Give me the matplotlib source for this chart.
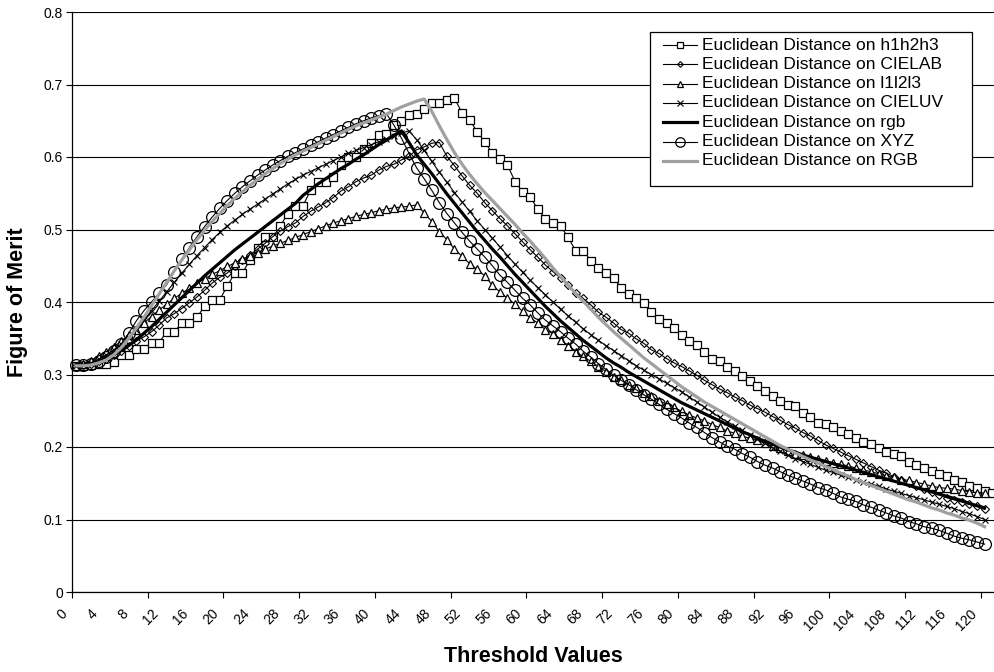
import matplotlib
matplotlib.use("Agg")
import matplotlib.pyplot as plt
import matplotlib.transforms as mtransforms
from matplotlib.lines import Line2D
from matplotlib.patches import Rectangle
import numpy as np

plt.rcParams['font.family'] = ['Liberation Sans', 'DejaVu Sans']

# ---------------- data ----------------
thresholds = list(range(0, 121))
thresholds_h = list(range(0, 122))

h1h2h3 = [0.312, 0.312, 0.313, 0.314, 0.315, 0.317, 0.327, 0.327, 0.335, 0.335,
          0.344, 0.344, 0.359, 0.359, 0.371, 0.371, 0.379, 0.394, 0.403, 0.403,
          0.422, 0.440, 0.440, 0.458, 0.474, 0.489, 0.489, 0.505, 0.522, 0.533,
          0.533, 0.554, 0.565, 0.565, 0.573, 0.589, 0.600, 0.600, 0.611, 0.620,
          0.630, 0.632, 0.644, 0.650, 0.658, 0.660, 0.666, 0.674, 0.675, 0.679,
          0.681, 0.661, 0.651, 0.635, 0.621, 0.605, 0.597, 0.589, 0.566, 0.552,
          0.545, 0.528, 0.515, 0.509, 0.505, 0.489, 0.471, 0.471, 0.457, 0.447,
          0.440, 0.433, 0.420, 0.411, 0.405, 0.398, 0.386, 0.376, 0.371, 0.364,
          0.354, 0.346, 0.341, 0.331, 0.322, 0.318, 0.311, 0.305, 0.298, 0.291,
          0.284, 0.277, 0.270, 0.264, 0.258, 0.256, 0.247, 0.242, 0.233, 0.232,
          0.228, 0.222, 0.218, 0.212, 0.207, 0.204, 0.198, 0.193, 0.191, 0.187,
          0.180, 0.175, 0.171, 0.167, 0.163, 0.160, 0.154, 0.152, 0.146, 0.144,
          0.140, 0.136]

cielab = [0.312, 0.313, 0.315, 0.318, 0.322, 0.327, 0.333, 0.340, 0.346, 0.352,
          0.359, 0.368, 0.378, 0.384, 0.391, 0.399, 0.407, 0.416, 0.426, 0.434,
          0.440, 0.449, 0.458, 0.465, 0.473, 0.481, 0.490, 0.498, 0.504, 0.509,
          0.518, 0.525, 0.531, 0.537, 0.544, 0.553, 0.559, 0.566, 0.571, 0.575,
          0.582, 0.587, 0.590, 0.596, 0.601, 0.610, 0.614, 0.619, 0.620, 0.601,
          0.588, 0.574, 0.561, 0.550, 0.537, 0.526, 0.515, 0.505, 0.494, 0.483,
          0.472, 0.462, 0.451, 0.442, 0.433, 0.423, 0.413, 0.405, 0.396, 0.386,
          0.379, 0.371, 0.362, 0.357, 0.349, 0.343, 0.334, 0.329, 0.322, 0.316,
          0.311, 0.305, 0.299, 0.292, 0.286, 0.280, 0.275, 0.269, 0.264, 0.258,
          0.253, 0.248, 0.242, 0.237, 0.231, 0.226, 0.220, 0.215, 0.209, 0.203,
          0.198, 0.193, 0.188, 0.183, 0.178, 0.173, 0.168, 0.164, 0.159, 0.155,
          0.151, 0.146, 0.142, 0.138, 0.134, 0.130, 0.127, 0.124, 0.121, 0.118,
          0.114]

l1l2l3 = [0.312, 0.315, 0.319, 0.325, 0.331, 0.338, 0.346, 0.354, 0.362, 0.371,
          0.380, 0.389, 0.397, 0.405, 0.412, 0.419, 0.426, 0.432, 0.438, 0.443,
          0.449, 0.454, 0.459, 0.464, 0.468, 0.473, 0.477, 0.481, 0.485, 0.489,
          0.493, 0.497, 0.501, 0.505, 0.509, 0.512, 0.515, 0.518, 0.521, 0.523,
          0.526, 0.528, 0.530, 0.531, 0.532, 0.534, 0.523, 0.511, 0.497, 0.486,
          0.473, 0.463, 0.453, 0.445, 0.436, 0.423, 0.414, 0.405, 0.397, 0.387,
          0.378, 0.371, 0.362, 0.356, 0.348, 0.339, 0.331, 0.325, 0.318, 0.311,
          0.304, 0.297, 0.292, 0.286, 0.281, 0.275, 0.270, 0.264, 0.259, 0.255,
          0.249, 0.244, 0.240, 0.236, 0.231, 0.227, 0.222, 0.219, 0.215, 0.212,
          0.209, 0.205, 0.201, 0.198, 0.195, 0.191, 0.189, 0.186, 0.183, 0.181,
          0.178, 0.176, 0.174, 0.171, 0.168, 0.166, 0.163, 0.160, 0.158, 0.155,
          0.154, 0.151, 0.149, 0.146, 0.144, 0.143, 0.142, 0.140, 0.138, 0.137,
          0.136]

cieluv = [0.312, 0.313, 0.316, 0.321, 0.327, 0.334, 0.342, 0.351, 0.362, 0.375,
          0.388, 0.401, 0.414, 0.427, 0.440, 0.452, 0.464, 0.475, 0.486, 0.496,
          0.505, 0.513, 0.521, 0.528, 0.535, 0.542, 0.549, 0.556, 0.563, 0.569,
          0.575, 0.580, 0.585, 0.590, 0.595, 0.600, 0.605, 0.609, 0.613, 0.617,
          0.621, 0.625, 0.629, 0.633, 0.636, 0.624, 0.609, 0.594, 0.579, 0.565,
          0.551, 0.538, 0.525, 0.512, 0.500, 0.488, 0.476, 0.464, 0.452, 0.441,
          0.430, 0.420, 0.410, 0.400, 0.390, 0.381, 0.372, 0.363, 0.355, 0.347,
          0.340, 0.333, 0.326, 0.319, 0.312, 0.306, 0.300, 0.294, 0.288, 0.282,
          0.276, 0.269, 0.262, 0.255, 0.248, 0.241, 0.235, 0.229, 0.223, 0.217,
          0.211, 0.205, 0.199, 0.194, 0.189, 0.184, 0.180, 0.176, 0.172, 0.168,
          0.165, 0.161, 0.158, 0.155, 0.152, 0.149, 0.146, 0.142, 0.139, 0.136,
          0.133, 0.130, 0.127, 0.124, 0.121, 0.118, 0.115, 0.111, 0.108, 0.104,
          0.100]

rgb_norm = [0.312, 0.313, 0.315, 0.318, 0.322, 0.327, 0.333, 0.340, 0.348, 0.357,
            0.366, 0.376, 0.386, 0.396, 0.406, 0.416, 0.426, 0.436, 0.445, 0.454,
            0.463, 0.472, 0.480, 0.488, 0.496, 0.504, 0.512, 0.520, 0.528, 0.536,
            0.547, 0.555, 0.563, 0.570, 0.577, 0.584, 0.590, 0.597, 0.603, 0.610,
            0.617, 0.623, 0.630, 0.636, 0.620, 0.603, 0.590, 0.577, 0.563, 0.549,
            0.536, 0.523, 0.510, 0.497, 0.485, 0.473, 0.462, 0.450, 0.438, 0.427,
            0.416, 0.405, 0.394, 0.384, 0.374, 0.365, 0.356, 0.347, 0.339, 0.331,
            0.323, 0.316, 0.310, 0.303, 0.297, 0.291, 0.285, 0.279, 0.273, 0.267,
            0.261, 0.256, 0.251, 0.246, 0.241, 0.236, 0.231, 0.226, 0.221, 0.217,
            0.212, 0.208, 0.204, 0.200, 0.196, 0.193, 0.189, 0.186, 0.183, 0.180,
            0.177, 0.174, 0.171, 0.168, 0.165, 0.162, 0.159, 0.156, 0.153, 0.150,
            0.147, 0.144, 0.141, 0.138, 0.135, 0.132, 0.129, 0.126, 0.122, 0.119,
            0.116]

xyz = [0.313, 0.313, 0.314, 0.318, 0.324, 0.332, 0.342, 0.357, 0.374, 0.388,
       0.400, 0.412, 0.424, 0.442, 0.459, 0.475, 0.490, 0.504, 0.517, 0.529,
       0.540, 0.550, 0.559, 0.567, 0.575, 0.582, 0.589, 0.595, 0.601, 0.606,
       0.611, 0.616, 0.621, 0.626, 0.631, 0.636, 0.641, 0.646, 0.650, 0.654,
       0.657, 0.660, 0.644, 0.626, 0.605, 0.585, 0.570, 0.554, 0.537, 0.522,
       0.509, 0.496, 0.484, 0.473, 0.462, 0.450, 0.437, 0.427, 0.416, 0.405,
       0.396, 0.385, 0.375, 0.367, 0.359, 0.350, 0.342, 0.332, 0.324, 0.315,
       0.307, 0.299, 0.292, 0.286, 0.279, 0.272, 0.266, 0.259, 0.252, 0.246,
       0.240, 0.233, 0.227, 0.220, 0.213, 0.207, 0.201, 0.197, 0.191, 0.186,
       0.180, 0.175, 0.171, 0.166, 0.161, 0.157, 0.153, 0.149, 0.144, 0.141,
       0.136, 0.131, 0.128, 0.125, 0.120, 0.117, 0.113, 0.109, 0.105, 0.102,
       0.097, 0.094, 0.090, 0.088, 0.085, 0.081, 0.077, 0.074, 0.072, 0.069,
       0.066]

rgb_raw = [0.312, 0.312, 0.313, 0.316, 0.320, 0.327, 0.337, 0.350, 0.364, 0.379,
           0.395, 0.411, 0.427, 0.443, 0.458, 0.472, 0.486, 0.499, 0.511, 0.522,
           0.533, 0.543, 0.552, 0.561, 0.569, 0.577, 0.584, 0.591, 0.597, 0.603,
           0.608, 0.613, 0.618, 0.623, 0.628, 0.633, 0.638, 0.643, 0.647, 0.651,
           0.655, 0.659, 0.664, 0.669, 0.673, 0.677, 0.680, 0.663, 0.643, 0.624,
           0.606, 0.590, 0.576, 0.563, 0.551, 0.540, 0.529, 0.518, 0.507, 0.495,
           0.484, 0.472, 0.460, 0.447, 0.435, 0.423, 0.412, 0.401, 0.390, 0.379,
           0.369, 0.359, 0.350, 0.341, 0.332, 0.323, 0.315, 0.307, 0.299, 0.291,
           0.283, 0.276, 0.269, 0.262, 0.256, 0.250, 0.244, 0.238, 0.232, 0.226,
           0.220, 0.214, 0.208, 0.202, 0.197, 0.192, 0.187, 0.182, 0.178, 0.173,
           0.169, 0.164, 0.160, 0.155, 0.151, 0.147, 0.143, 0.139, 0.135, 0.131,
           0.127, 0.124, 0.120, 0.116, 0.113, 0.109, 0.106, 0.102, 0.099, 0.095,
           0.090]

labels = ["Euclidean Distance on h1h2h3",
          "Euclidean Distance on CIELAB",
          "Euclidean Distance on l1l2l3",
          "Euclidean Distance on CIELUV",
          "Euclidean Distance on rgb",
          "Euclidean Distance on XYZ",
          "Euclidean Distance on RGB"]

x_tick_values = list(range(0, 121, 4))
y_tick_values = [0, 0.1, 0.2, 0.3, 0.4, 0.5, 0.6, 0.7, 0.8]
y_tick_labels = ["0", "0.1", "0.2", "0.3", "0.4", "0.5", "0.6", "0.7", "0.8"]

# ---------------- styles ----------------
styles = [
    dict(color="black", lw=0.8, marker="s", ms=5.5, mfc="white", mec="black", mew=0.9),
    dict(color="black", lw=0.8, marker="D", ms=3.6, mfc="none", mec="black", mew=0.8),
    dict(color="black", lw=0.8, marker="^", ms=5.2, mfc="white", mec="black", mew=0.9),
    dict(color="black", lw=0.8, marker="x", ms=5.0, mec="black", mew=0.8),
    dict(color="black", lw=2.3, marker=None),
    dict(color="black", lw=0.8, marker="o", ms=8.5, mfc="none", mec="black", mew=0.9),
    dict(color="#a0a0a0", lw=2.3, marker=None),
]

W, H = 995, 672
fig = plt.figure(figsize=(W / 100, H / 100), dpi=100)
fig.patch.set_facecolor("white")
L, R, T, B = 72, 996, 12, 592
ax = fig.add_axes([L / W, 1 - B / H, (R - L) / W, (B - T) / H])
ax.set_xlim(-0.5, 121.5)
ax.set_ylim(0, 0.8)

series = [(thresholds_h, h1h2h3), (thresholds, cielab), (thresholds, l1l2l3),
          (thresholds, cieluv), (thresholds, rgb_norm), (thresholds, xyz),
          (thresholds, rgb_raw)]
for i, ((xs, ys), st) in enumerate(zip(series, styles)):
    ax.plot(xs, ys, label=labels[i], zorder=3 + i, clip_on=False, **st)

# grid / axes
ax.set_yticks(y_tick_values)
ax.set_yticklabels(y_tick_labels, fontsize=10)
ax.yaxis.grid(True, color="black", lw=0.8)
ax.set_axisbelow(True)
for s in ["top", "right"]:
    ax.spines[s].set_visible(False)
for s in ["left", "bottom"]:
    ax.spines[s].set_linewidth(0.9)
    ax.spines[s].set_color("black")
ax.tick_params(axis="y", direction="out", length=4, width=0.8, pad=2.5)

ax.set_xticks(x_tick_values)
ax.set_xticklabels([str(v) for v in x_tick_values], fontsize=10)
ax.set_xticks(np.arange(-0.5, 120, 10), minor=True)
ax.tick_params(axis="x", which="major", length=0, pad=14)
ax.tick_params(axis="x", which="minor", direction="out", length=4, width=0.8)
offset = mtransforms.ScaledTranslation(-10.5 / 100, 0, fig.dpi_scale_trans)
for lab in ax.get_xticklabels():
    lab.set_rotation(45)
    lab.set_ha("right")
    lab.set_va("center")
    lab.set_rotation_mode("anchor")
    lab.set_transform(lab.get_transform() + offset)

fig.text(533 / W, 1 - 656 / H, "Threshold Values", fontsize=15.5,
         fontweight="bold", ha="center", va="center")
fig.text(18 / W, 1 - 302 / H, "Figure of Merit", fontsize=15.5,
         fontweight="bold", ha="center", va="center", rotation=90)

# legend (drawn in figure pixel space)
def fx(px):
    return px / W

def fy(py):
    return 1 - py / H

box_l, box_r, box_t, box_b = 650, 972, 32, 186
fig.patches.append(Rectangle((fx(box_l), fy(box_b)), fx(box_r) - fx(box_l),
                             fy(box_t) - fy(box_b), transform=fig.transFigure,
                             facecolor="white", edgecolor="black", lw=0.9,
                             zorder=20))
row0, dy = 45, 19.3
for i, st in enumerate(styles):
    yc = fy(row0 + dy * i)
    st2 = dict(st)
    if st2.get("ms"):
        st2["ms"] = st2["ms"] * 0.8
    ln = Line2D([fx(663), fx(680), fx(697)], [yc, yc, yc], markevery=[1],
                transform=fig.transFigure, zorder=21, **st2)
    fig.lines.append(ln)
    fig.text(fx(702), yc, labels[i], fontsize=12.5, ha="left", va="center",
             zorder=22)

fig.savefig("out.png", dpi=100, facecolor="white")
